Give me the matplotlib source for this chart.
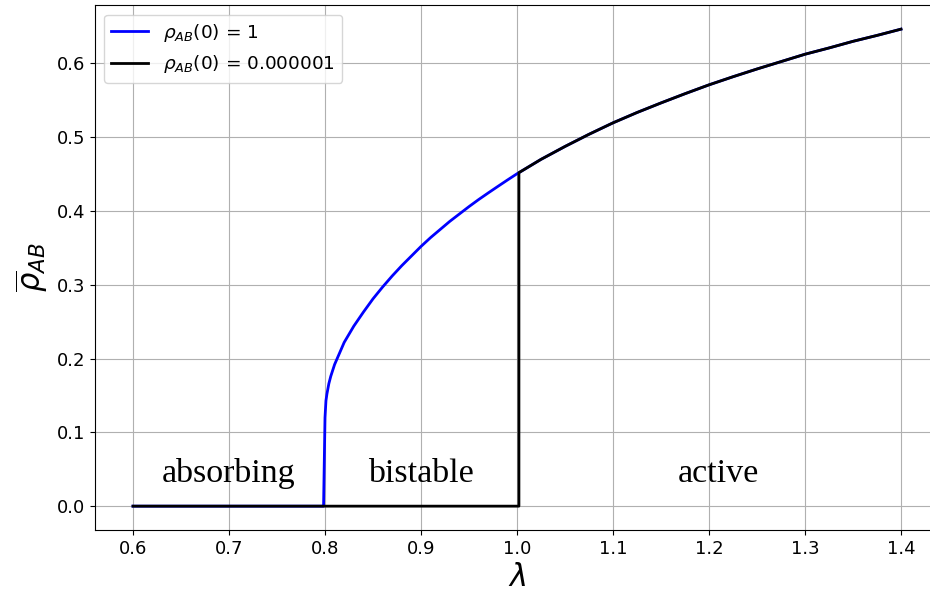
import matplotlib
matplotlib.use("Agg")
import matplotlib.pyplot as plt

IMAGE_FILE = "out.png"

# upper (active) branch of the stationary density, shared by both runs
LAM_UPPER = [0.800, 0.801, 0.802, 0.804, 0.806, 0.808, 0.810, 0.815, 0.820,
             0.83, 0.84, 0.85, 0.86, 0.87, 0.88, 0.89, 0.90, 0.91, 0.92,
             0.93, 0.94, 0.95, 0.96, 0.97, 0.98, 0.99, 1.000, 1.002,
             1.025, 1.050, 1.075, 1.100, 1.125, 1.150, 1.175, 1.200,
             1.225, 1.250, 1.275, 1.300, 1.325, 1.350, 1.375, 1.400]
RHO_UPPER = [0.120, 0.143, 0.152, 0.166, 0.176, 0.184, 0.192, 0.207, 0.222,
             0.244, 0.263, 0.281, 0.297, 0.312, 0.326, 0.339, 0.352, 0.364, 0.375,
             0.386, 0.396, 0.406, 0.4155, 0.4245, 0.4333, 0.4420, 0.4505, 0.452,
             0.470, 0.4875, 0.504, 0.5195, 0.5335, 0.5465, 0.559, 0.571,
             0.582, 0.5925, 0.6025, 0.6125, 0.621, 0.630, 0.638, 0.6465]

# absorbing branch (rho = 0) for each initial condition
LAM_ZERO_FULL = [0.6, 0.7985]   # rho_AB(0) = 1
LAM_ZERO_SMALL = [0.6, 1.002]   # rho_AB(0) = 1e-6
RHO_ZERO = [0.0, 0.0]

REGIONS = ["absorbing", "bistable", "active"]
REGION_X = [0.7, 0.9, 1.21]
REGION_Y = 0.033

LABELS = [r"$\rho_{AB}(0)$ = 1", r"$\rho_{AB}(0)$ = 0.000001"]
COLORS = ["blue", "black"]

fig = plt.figure(figsize=(9.3, 5.96), dpi=100)
# axes run slightly past the right edge of the canvas
ax = fig.add_axes([94.6 / 930, 66 / 596, 844.8 / 930, 524.7 / 596])

x_full = LAM_ZERO_FULL + LAM_UPPER
y_full = RHO_ZERO + RHO_UPPER
i_jump = LAM_UPPER.index(1.002)
x_small = LAM_ZERO_SMALL + LAM_UPPER[i_jump:]
y_small = RHO_ZERO + RHO_UPPER[i_jump:]

ax.plot(x_full, y_full, color=COLORS[0], lw=2, label=LABELS[0])
ax.plot(x_small, y_small, color=COLORS[1], lw=2, label=LABELS[1])

for name, xpos in zip(REGIONS, REGION_X):
    ax.text(xpos, REGION_Y, name, ha="center", fontsize=24.5,
            family="Liberation Serif")

ax.set_xlim(0.56, 1.44)
ax.set_xticks([0.6, 0.7, 0.8, 0.9, 1.0, 1.1, 1.2, 1.3, 1.4])
ax.set_yticks([0.0, 0.1, 0.2, 0.3, 0.4, 0.5, 0.6])
ax.tick_params(labelsize=13)
ax.grid(True)
ax.legend(loc="upper left", fontsize=13.3)
ax.set_xlabel(r"$\lambda$", fontsize=22)
ax.set_ylabel(r"$\overline{\rho}_{AB}$", fontsize=22)

fig.savefig(IMAGE_FILE, dpi=100)
plt.close("all")
